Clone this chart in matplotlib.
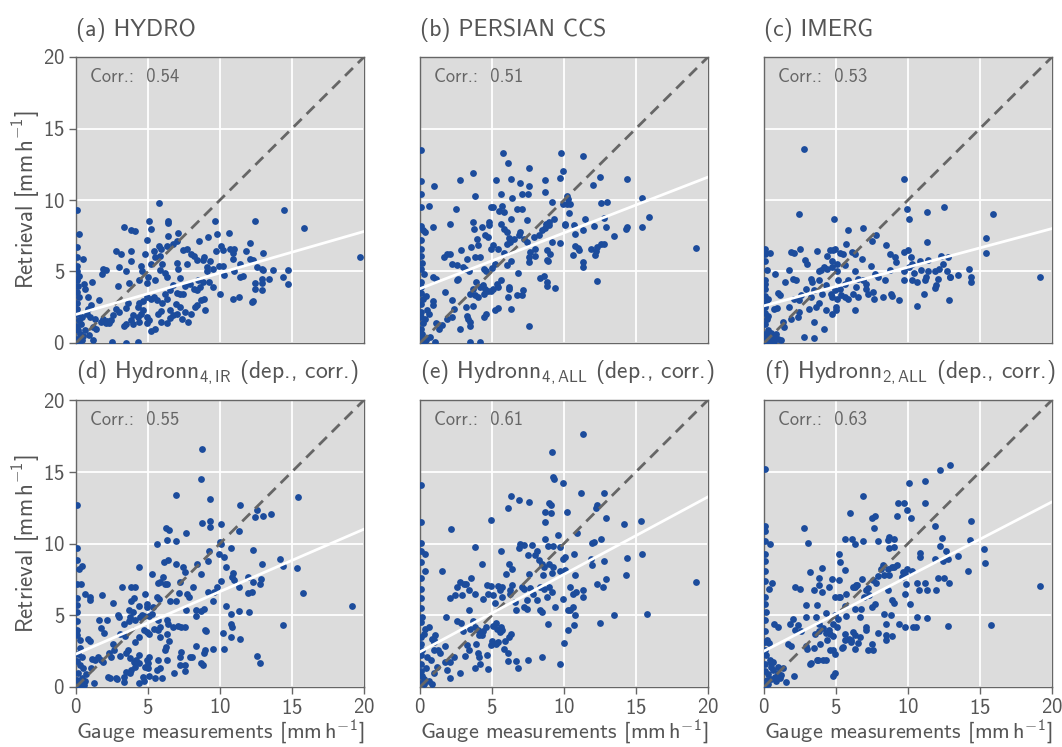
import numpy as np
import matplotlib
matplotlib.use("Agg")
import matplotlib.pyplot as plt

plt.rcParams["font.family"] = ["cmss10", "DejaVu Sans"]
plt.rcParams["mathtext.fontset"] = "custom"
plt.rcParams["mathtext.rm"] = "cmss10"
plt.rcParams["mathtext.it"] = "cmss10"
plt.rcParams["mathtext.sf"] = "cmss10"
plt.rcParams["axes.unicode_minus"] = False
plt.rcParams["axes.formatter.use_mathtext"] = True

# ---------------------------------------------------------------- data
titles = [
    "(a) HYDRO",
    "(b) PERSIAN CCS",
    "(c) IMERG",
    r"(d) Hydronn$_{4,\mathrm{IR}}$ (dep., corr.)",
    r"(e) Hydronn$_{4,\mathrm{ALL}}$ (dep., corr.)",
    r"(f) Hydronn$_{2,\mathrm{ALL}}$ (dep., corr.)",
]
correlations = [0.54, 0.51, 0.53, 0.55, 0.61, 0.63]
fit_intercepts = [2.0, 3.8, 2.6, 2.3, 2.45, 2.5]
fit_slopes = [0.29, 0.39, 0.27, 0.435, 0.54, 0.52]
ticks = [0, 5, 10, 15, 20]

# (gauge, retrieval) pairs in mm/h
hydro_pts = [
    (5.77, 9.79), (14.47, 9.28), (15.8, 8.05), (19.7, 6.0), (0.05, 9.3), (6.4, 8.5), (6.4, 8.4),
    (5.05, 8.5), (9.65, 8.5), (12.4, 8.5), (3.3, 8.1), (3.8, 7.9), (4.1, 7.8), (5.2, 8.0),
    (0.2, 7.6), (6.4, 7.5), (7.1, 7.7), (9.2, 7.4), (9.8, 7.6), (10.6, 7.7), (4.9, 7.2),
    (5.75, 6.75), (5.9, 6.6), (6.35, 6.75), (6.75, 6.9), (7.0, 7.1), (7.45, 6.5), (7.7, 6.55),
    (8.0, 6.2), (8.2, 6.1), (8.55, 7.1), (9.7, 6.4), (10.1, 6.8), (10.2, 6.5), (10.7, 6.6),
    (11.0, 6.6), (10.9, 6.3), (10.9, 5.85), (11.8, 6.4), (12.1, 7.0), (13.0, 6.3), (12.1, 5.9),
    (12.3, 5.8), (2.8, 6.4), (3.1, 6.2), (3.8, 6.4), (4.8, 6.2), (5.4, 6.4), (5.8, 6.1),
    (0.1, 6.7), (0.1, 6.0), (0.5, 5.9), (3.8, 5.7), (3.0, 5.3), (1.9, 5.2), (2.1, 5.1),
    (1.8, 4.8), (3.5, 5.0), (4.5, 5.4), (5.2, 5.55), (5.5, 6.0), (6.0, 5.55), (7.0, 5.6),
    (5.8, 5.1), (6.2, 4.9), (6.3, 4.6), (5.5, 4.4), (5.0, 4.6), (4.6, 5.0), (4.35, 4.4),
    (3.7, 4.2), (2.95, 4.0), (4.9, 4.2), (7.2, 4.55), (7.1, 5.2), (7.7, 5.55), (8.4, 5.8),
    (8.8, 5.8), (8.9, 6.0), (9.3, 5.7), (9.1, 5.3), (9.1, 5.05), (9.5, 5.15), (9.95, 5.4),
    (10.2, 5.4), (10.3, 4.75), (10.95, 5.0), (11.4, 5.55), (11.6, 4.7), (11.4, 4.6), (12.6, 5.3),
    (12.9, 5.15), (13.0, 5.1), (13.65, 5.1), (14.7, 5.1), (12.4, 4.2), (12.95, 4.5), (12.95, 4.2),
    (13.4, 4.5), (14.4, 4.6), (14.7, 4.15), (12.4, 3.75), (12.95, 3.7), (12.2, 2.9), (12.3, 2.95),
    (10.9, 3.05), (11.35, 3.2), (10.0, 3.4), (9.5, 3.9), (9.25, 4.3), (8.8, 4.3), (8.5, 4.4),
    (8.6, 3.95), (8.4, 3.7), (8.2, 3.8), (7.9, 4.15), (7.6, 4.0), (7.45, 3.45), (7.2, 3.4),
    (7.0, 3.5), (6.75, 4.05), (6.5, 3.7), (6.2, 3.45), (6.3, 3.1), (6.0, 2.8), (5.9, 2.25),
    (5.6, 3.0), (5.45, 3.2), (5.2, 3.1), (4.9, 3.2), (4.65, 2.95), (4.4, 2.8), (4.3, 2.5),
    (4.65, 2.3), (4.5, 2.05), (4.9, 1.85), (5.1, 1.6), (4.9, 1.4), (4.3, 1.85), (4.4, 1.5),
    (3.95, 1.95), (3.8, 1.6), (3.95, 1.3), (3.45, 1.3), (3.3, 1.2), (3.6, 2.8), (3.5, 2.45),
    (3.0, 2.2), (2.55, 1.95), (2.45, 1.6), (2.15, 1.55), (2.8, 2.4), (1.6, 3.0), (1.05, 2.65),
    (0.8, 2.4), (1.1, 4.3), (0.55, 4.15), (0.6, 3.8), (0.8, 3.25), (0.75, 2.05), (0.95, 1.85),
    (1.3, 1.7), (1.75, 1.5), (1.85, 1.7), (2.05, 1.4), (2.3, 1.4), (1.15, 1.15), (1.4, 1.0),
    (0.9, 0.55), (1.2, 0.2), (2.5, 0.1), (3.5, 0.02), (4.3, 0.05), (5.2, 0.85), (5.5, 1.0),
    (5.9, 1.5), (6.35, 1.4), (6.55, 1.75), (6.75, 1.95), (7.0, 2.05), (7.35, 1.65), (7.8, 1.5),
    (7.55, 2.2), (8.0, 2.05), (8.25, 2.55), (8.4, 2.65), (8.7, 3.0), (8.9, 3.1), (8.95, 2.3),
    (7.2, 2.55), (6.95, 2.7), (5.7, 2.05), (6.5, 2.3),
    (0.05, 5.4), (0.05, 5.0), (0.2, 4.7), (0.05, 4.4), (0.15, 4.0), (0.05, 3.6), (0.2, 3.2),
    (0.05, 2.8), (0.1, 2.4), (0.05, 2.0), (0.2, 1.6), (0.05, 1.2), (0.15, 0.9), (0.3, 0.6),
    (0.05, 0.3), (0.4, 0.2), (0.2, 0.05), (0.5, 0.5), (0.6, 0.9), (0.35, 1.3), (0.45, 1.8),
]

persiann_pts = [
    (0.05, 13.5), (5.75, 13.3), (9.8, 13.3), (11.35, 13.1), (6.1, 12.6), (7.55, 12.25), (9.9, 12.0),
    (3.7, 11.9), (2.8, 11.4), (5.3, 11.4), (6.35, 11.45), (8.65, 11.4), (9.7, 11.55), (12.5, 11.6),
    (14.35, 11.45), (0.05, 11.3), (1.0, 10.95), (6.95, 11.2), (7.55, 11.0), (12.0, 11.05),
    (3.8, 10.3), (5.6, 10.45), (6.4, 10.15), (7.05, 10.4), (7.5, 10.45), (8.7, 10.55), (10.2, 10.3),
    (10.3, 10.1), (9.95, 9.7), (10.2, 9.75), (10.4, 9.7), (9.2, 9.85), (15.4, 10.15), (12.55, 9.8),
    (13.0, 9.85), (0.05, 10.4), (0.05, 9.5), (0.6, 9.6), (2.5, 9.35), (4.9, 9.5), (5.05, 9.5),
    (5.7, 9.6), (5.5, 9.2), (5.8, 9.15), (6.75, 9.35), (7.05, 9.4), (10.35, 9.1), (9.3, 8.7),
    (8.95, 8.45), (8.75, 8.35), (8.95, 8.25), (8.7, 8.05), (7.45, 8.6), (6.3, 8.65), (5.6, 8.35),
    (5.85, 8.0), (6.05, 7.75), (4.8, 8.45), (4.8, 8.25), (4.3, 8.1), (3.7, 8.45), (3.75, 8.0),
    (2.1, 8.35), (0.9, 8.1), (0.05, 8.2), (0.2, 7.9), (0.35, 7.75), (11.45, 8.65), (12.05, 8.15),
    (12.8, 8.75), (12.9, 8.1), (10.05, 8.35), (10.1, 8.25), (10.7, 8.25), (10.75, 7.6), (11.3, 7.9),
    (14.4, 8.1), (14.3, 8.0), (15.4, 8.1), (15.9, 8.8), (13.5, 7.45), (12.8, 6.95), (12.55, 6.9),
    (12.3, 6.7), (11.9, 6.6), (12.2, 6.4), (12.15, 6.15), (11.0, 6.65), (11.05, 6.5), (10.75, 6.8),
    (10.65, 6.15), (11.3, 5.65), (11.35, 5.3), (12.3, 4.35), (19.2, 6.65), (9.75, 7.0), (9.2, 7.05),
    (8.85, 6.5), (9.05, 6.25), (8.85, 5.8), (8.5, 7.9), (8.25, 7.55), (7.9, 7.4), (8.0, 6.55),
    (7.65, 6.35), (7.45, 7.05), (7.2, 7.3), (6.95, 7.75), (6.85, 7.55), (6.5, 7.3), (6.25, 7.05),
    (6.05, 6.95), (6.2, 7.35), (5.8, 6.3), (5.4, 6.6), (5.1, 6.85), (4.9, 6.55), (4.5, 7.55),
    (4.7, 7.4), (3.95, 7.3), (4.0, 6.85), (3.55, 6.7), (2.85, 6.5), (1.9, 6.25), (2.05, 6.2),
    (1.65, 6.0), (3.25, 5.9), (3.8, 6.0), (4.2, 6.0), (2.2, 5.5), (2.55, 5.45), (3.0, 5.3),
    (3.15, 5.2), (3.4, 5.05), (4.45, 5.15), (4.6, 5.0), (5.2, 5.5), (5.0, 5.25), (6.05, 5.45),
    (6.35, 5.7), (6.8, 4.9), (7.55, 5.65), (7.6, 6.0), (8.0, 6.05), (8.9, 5.75), (8.3, 4.55),
    (8.6, 4.7), (8.85, 4.3), (8.85, 4.0), (9.4, 3.85), (7.15, 3.7), (7.1, 3.35), (6.75, 3.35),
    (6.15, 3.95), (6.15, 3.75), (6.1, 3.25), (5.6, 4.4), (5.35, 4.15), (5.4, 3.9), (5.1, 3.75),
    (4.95, 3.65), (4.75, 3.65), (4.45, 3.4), (4.5, 3.8), (4.4, 4.05), (4.2, 3.95), (3.9, 4.25),
    (3.85, 3.35), (4.0, 3.2), (3.7, 3.75), (3.5, 3.45), (2.55, 4.4), (2.65, 4.5), (0.9, 4.6),
    (1.1, 4.45), (1.75, 3.55), (2.25, 3.0), (0.9, 2.95), (0.9, 2.65), (0.5, 2.3), (0.6, 2.05),
    (6.3, 2.35), (5.45, 2.45), (5.2, 2.3), (4.55, 2.05), (4.45, 1.85), (3.65, 2.6), (3.2, 2.55),
    (3.25, 1.9), (3.3, 1.65), (3.45, 1.5), (3.5, 1.2), (2.8, 1.0), (2.35, 2.35), (2.2, 1.85),
    (1.85, 1.7), (1.5, 1.25), (1.3, 0.95), (1.1, 1.4), (7.55, 1.2), (3.5, 0.05), (4.2, 0.05),
    (1.05, 0.05), (0.45, 0.2), (0.7, 0.45),
    (0.05, 7.2), (0.1, 6.6), (0.05, 6.1), (0.15, 5.6), (0.05, 5.2), (0.25, 4.8), (0.05, 4.3),
    (0.1, 3.9), (0.05, 3.5), (0.2, 3.1), (0.05, 2.7), (0.1, 2.2), (0.05, 1.8), (0.2, 1.4),
    (0.05, 1.0), (0.15, 0.6), (0.05, 0.25), (0.3, 0.05), (0.35, 1.7), (0.4, 3.3),
]

imerg_pts = [
    (2.8, 13.6), (9.7, 11.45), (2.45, 9.0), (4.85, 8.7), (9.9, 9.35), (10.05, 8.7), (11.3, 9.15),
    (12.5, 9.5), (15.9, 9.05), (5.8, 7.9), (6.85, 8.05), (7.8, 7.55), (7.5, 7.15), (8.45, 6.85),
    (11.3, 7.05), (15.4, 7.35), (15.4, 6.3), (19.15, 4.65), (1.9, 6.35), (2.05, 6.3), (2.5, 6.6),
    (3.65, 6.4), (4.55, 6.5), (4.8, 6.5), (4.95, 6.6), (5.7, 6.9), (4.4, 6.05), (5.25, 6.3),
    (5.5, 6.25), (6.1, 6.35), (6.3, 6.2), (6.8, 5.85), (4.75, 5.7), (5.1, 5.55), (5.6, 5.45),
    (4.2, 5.3), (4.4, 5.2), (4.7, 5.3), (3.95, 5.1), (3.85, 5.0), (2.85, 5.8), (3.0, 5.55),
    (1.75, 5.1), (0.05, 6.6), (0.05, 6.2), (0.4, 6.3), (0.05, 5.7), (0.2, 5.1), (0.75, 4.85),
    (0.05, 4.4), (0.05, 3.8), (2.0, 4.5), (2.2, 4.4), (1.45, 4.3), (3.25, 4.45), (3.35, 4.3),
    (3.85, 4.4), (5.1, 5.0), (5.15, 4.4), (5.6, 4.15), (5.8, 4.4), (6.3, 5.0), (6.5, 4.5),
    (6.85, 4.4), (7.4, 5.35), (7.7, 4.85), (7.9, 4.6), (8.4, 4.4), (8.75, 5.1), (8.75, 6.2),
    (9.1, 6.0), (9.2, 5.65), (9.7, 6.35), (10.0, 6.5), (10.2, 6.0), (10.3, 5.55), (10.1, 5.3),
    (9.75, 5.0), (9.7, 4.4), (10.45, 4.9), (10.8, 5.75), (10.9, 5.1), (11.4, 5.8), (11.4, 5.05),
    (12.3, 6.05), (12.8, 6.0), (12.45, 5.55), (11.85, 5.05), (12.15, 5.15), (12.7, 5.0), (12.9, 4.65),
    (12.95, 4.6), (13.45, 4.75), (14.25, 5.2), (14.35, 4.65), (14.4, 4.3), (11.2, 4.4), (11.25, 4.65),
    (12.05, 4.45), (10.6, 4.3), (10.3, 4.4), (11.95, 4.05), (11.85, 3.85), (11.1, 3.45), (12.85, 3.0),
    (10.6, 2.6), (9.4, 3.0), (8.85, 3.45), (8.9, 3.3), (8.25, 3.25), (7.55, 3.6), (7.65, 3.1),
    (7.05, 4.15), (7.1, 3.8), (7.2, 3.45), (6.4, 3.95), (6.5, 3.25), (6.2, 3.45), (5.8, 3.1),
    (5.6, 3.25), (5.25, 3.8), (5.35, 3.35), (5.1, 3.1), (4.95, 3.7), (4.65, 3.45), (4.75, 3.2),
    (4.3, 4.05), (4.05, 3.45), (3.85, 2.8), (3.5, 3.7), (3.25, 3.25), (2.9, 3.8), (2.55, 3.35),
    (2.45, 3.0), (2.05, 3.05), (1.75, 2.55), (0.95, 3.5), (1.1, 3.35), (0.9, 2.45), (0.7, 2.35),
    (0.1, 2.5), (0.25, 3.1), (5.0, 2.5), (5.0, 2.3), (4.75, 2.0), (6.3, 2.3), (4.3, 2.3),
    (3.6, 2.55), (3.15, 2.4), (2.45, 2.15), (2.35, 1.85), (1.85, 1.7), (3.5, 1.5), (4.15, 0.95),
    (2.8, 0.45), (3.45, 0.35), (0.25, 0.9), (0.5, 0.7), (0.6, 0.45), (0.95, 0.3), (1.2, 0.2),
    (0.1, 0.2), (0.35, 0.1), (1.3, 1.5), (1.4, 1.15),
    (0.05, 3.3), (0.15, 2.9), (0.05, 2.1), (0.2, 1.7), (0.05, 1.3), (0.1, 0.6), (0.4, 0.35),
    (0.7, 0.15), (0.5, 0.05), (0.3, 0.5), (0.15, 0.1), (0.8, 0.6), (0.05, 4.1), (0.3, 1.9),
]

hydronn4ir_pts = [
    (8.75, 16.6), (8.65, 14.5), (6.95, 13.4), (9.3, 13.1), (15.45, 13.25), (11.4, 12.65), (0.05, 12.7),
    (12.55, 12.35), (13.0, 11.95), (12.45, 11.85), (13.55, 12.05), (9.3, 11.6), (9.3, 11.15),
    (8.75, 11.4), (10.05, 11.35), (11.3, 10.9), (7.65, 10.75), (6.25, 11.05), (6.45, 10.95),
    (6.35, 10.25), (6.95, 10.15), (5.65, 9.95), (10.0, 10.1), (10.1, 10.0), (10.75, 9.7), (9.25, 9.45),
    (9.2, 8.8), (9.95, 9.25), (10.3, 9.05), (12.3, 9.55), (14.2, 8.95), (14.4, 8.4), (15.35, 8.3),
    (15.75, 6.55), (19.2, 5.65), (0.05, 9.7), (0.05, 8.85), (0.2, 8.25), (0.45, 8.4), (4.35, 8.35),
    (6.1, 8.7), (6.4, 8.85), (6.95, 8.6), (7.45, 8.35), (7.6, 8.0), (8.4, 8.55), (8.7, 7.9),
    (10.4, 8.35), (10.9, 7.95), (10.8, 7.65), (10.95, 7.45), (12.95, 8.55), (11.95, 7.65), (12.3, 7.3),
    (12.75, 7.2), (12.85, 7.5), (11.3, 7.0), (11.95, 6.55), (12.2, 6.6), (12.0, 5.2), (11.3, 5.3),
    (10.75, 5.1), (10.45, 5.65), (9.8, 7.0), (9.6, 6.65), (9.2, 6.6), (9.5, 6.0), (10.05, 7.4),
    (10.75, 4.4), (10.8, 4.2), (10.75, 3.5), (11.4, 3.35), (10.2, 3.75), (10.25, 2.65), (12.55, 2.15),
    (12.8, 1.65), (14.4, 4.35), (5.25, 7.85), (5.7, 7.25), (5.8, 7.35), (6.05, 7.65), (6.15, 7.2),
    (6.35, 7.2), (7.2, 7.3), (8.15, 7.0), (7.7, 6.5), (7.85, 6.3), (7.15, 6.55), (6.55, 6.0),
    (6.95, 6.0), (5.65, 6.25), (5.75, 6.1), (4.8, 6.5), (4.95, 5.75), (4.9, 5.6), (4.4, 5.65),
    (4.0, 6.2), (3.85, 6.0), (3.8, 7.0), (4.1, 7.0), (3.2, 7.0), (2.6, 5.85), (1.8, 6.4),
    (0.95, 6.3), (1.0, 6.05), (0.6, 6.5), (0.05, 7.2), (0.35, 7.2), (0.05, 6.2), (0.05, 5.7),
    (0.05, 5.2), (5.35, 5.55), (5.25, 5.1), (5.1, 4.95), (5.7, 4.65), (5.85, 4.2), (5.4, 4.05),
    (4.7, 4.95), (4.55, 5.0), (4.45, 4.85), (4.1, 4.65), (3.65, 5.35), (3.95, 5.25), (2.9, 5.05),
    (3.0, 4.9), (3.35, 4.4), (3.75, 4.85), (3.65, 4.6), (1.6, 4.7), (2.15, 4.65), (1.75, 4.1),
    (1.95, 3.75), (3.05, 3.7), (3.4, 3.55), (4.1, 3.15), (4.35, 3.5), (4.75, 3.95), (4.9, 3.85),
    (5.1, 3.7), (5.7, 3.95), (5.8, 3.5), (6.45, 3.2), (6.3, 3.7), (6.3, 4.65), (6.4, 4.4),
    (6.75, 4.2), (7.1, 4.25), (7.3, 4.2), (7.55, 4.2), (7.65, 5.35), (8.35, 5.4), (8.65, 5.3),
    (8.9, 5.45), (8.3, 4.95), (8.95, 3.95), (9.05, 3.9), (8.3, 2.85), (8.95, 2.55), (8.9, 2.4),
    (9.5, 2.65), (8.7, 1.65), (8.85, 1.5), (7.95, 2.1), (8.05, 2.1), (7.3, 2.45), (7.25, 2.1),
    (7.6, 1.5), (7.6, 1.1), (7.2, 1.5), (6.8, 0.95), (6.25, 2.8), (6.2, 2.55), (6.35, 1.85),
    (5.7, 1.85), (5.65, 1.15), (5.8, 1.3), (5.95, 0.6), (5.5, 0.6), (5.05, 2.1), (4.9, 1.85),
    (5.0, 1.65), (4.8, 1.4), (5.0, 1.3), (5.1, 0.8), (4.65, 0.7), (4.75, 0.45), (4.35, 2.2),
    (4.2, 1.85), (4.35, 1.65), (4.1, 1.4), (3.75, 2.0), (4.0, 1.75), (4.35, 0.25), (3.75, 0.95),
    (3.8, 1.15), (3.5, 1.05), (3.3, 0.35), (2.85, 0.55), (3.3, 0.7), (3.6, 2.55), (3.45, 2.35),
    (3.05, 2.15), (2.55, 3.0), (2.65, 2.55), (2.3, 2.35), (2.4, 2.1), (2.2, 0.7), (2.35, 0.6),
    (2.8, 0.6), (1.75, 1.85), (1.5, 2.1), (1.3, 1.85), (1.1, 1.95), (1.05, 1.3), (1.25, 0.25),
    (1.85, 1.75), (0.8, 3.35), (1.0, 3.2), (0.25, 3.3), (0.3, 2.7), (0.4, 2.1), (0.5, 1.3),
    (0.3, 1.5), (0.15, 0.95), (0.4, 0.6), (0.6, 0.45), (0.3, 0.25), (0.05, 4.6), (0.1, 4.0),
    (0.05, 3.6), (0.15, 2.3), (0.05, 1.8), (0.1, 0.5), (0.2, 0.1), (0.7, 0.9), (0.55, 0.15),
]

hydronn4all_pts = [
    (11.35, 17.6), (9.2, 16.4), (9.25, 14.6), (9.3, 14.5), (9.95, 14.25), (0.05, 14.05), (11.2, 13.5),
    (12.75, 13.55), (6.3, 13.3), (6.85, 13.0), (7.55, 12.9), (6.1, 12.45), (8.95, 12.8), (9.1, 12.65),
    (12.2, 12.5), (12.3, 12.65), (10.2, 12.2), (8.7, 12.2), (9.1, 12.15), (8.65, 11.5), (4.9, 11.65),
    (12.95, 11.8), (14.15, 11.35), (15.35, 11.6), (2.15, 11.0), (0.05, 11.5), (0.05, 10.05),
    (7.8, 9.9), (8.7, 10.3), (8.9, 9.85), (9.25, 9.85), (9.6, 10.6), (9.7, 9.75), (10.9, 10.7),
    (11.95, 10.05), (12.1, 10.1), (12.55, 10.3), (6.95, 10.0), (6.85, 9.7), (7.2, 9.9), (5.65, 9.45),
    (3.8, 9.75), (8.1, 9.5), (8.0, 9.2), (7.5, 9.2), (8.25, 8.85), (10.1, 9.05), (9.95, 8.95),
    (10.7, 9.25), (11.9, 8.95), (11.95, 8.5), (12.8, 8.75), (15.4, 9.3), (14.35, 9.0), (14.3, 7.8),
    (12.9, 7.55), (12.3, 7.15), (12.7, 7.0), (19.15, 7.35), (15.75, 5.1), (13.5, 5.05), (12.5, 4.45),
    (0.05, 9.5), (0.1, 8.7), (0.35, 9.3), (0.35, 8.1), (1.55, 8.1), (4.3, 8.6), (6.2, 8.55),
    (6.4, 8.2), (6.0, 7.85), (7.6, 7.85), (8.45, 8.6), (8.6, 8.35), (8.95, 8.6), (9.25, 8.35),
    (9.75, 8.1), (10.05, 8.15), (9.2, 7.95), (8.55, 7.8), (10.75, 7.8), (3.55, 7.6), (2.8, 7.3),
    (3.05, 7.2), (3.2, 7.2), (2.55, 7.0), (3.4, 6.75), (2.95, 6.4), (2.45, 6.4), (2.05, 6.2),
    (3.8, 6.5), (4.65, 7.1), (4.95, 7.05), (4.7, 6.5), (5.45, 7.05), (5.7, 7.0), (5.55, 6.75),
    (5.7, 6.3), (5.1, 6.4), (5.2, 5.85), (4.4, 6.1), (6.25, 6.75), (6.4, 7.1), (6.25, 6.5),
    (6.6, 5.9), (6.7, 5.35), (7.1, 7.0), (7.25, 6.85), (7.65, 6.9), (7.85, 6.5), (8.3, 7.0),
    (8.6, 6.85), (8.8, 6.3), (8.95, 7.0), (8.15, 6.05), (8.3, 5.4), (8.5, 5.25), (7.45, 6.05),
    (7.45, 5.45), (7.2, 5.55), (9.15, 6.65), (9.95, 6.15), (10.65, 6.5), (10.85, 6.65), (10.4, 7.0),
    (10.6, 5.6), (10.45, 5.35), (10.3, 5.35), (10.75, 5.05), (11.3, 6.75), (11.3, 6.3), (9.4, 5.6),
    (8.9, 4.4), (10.7, 4.35), (10.25, 3.95), (10.0, 3.1), (9.75, 1.6), (8.5, 2.1), (7.5, 1.85),
    (6.8, 1.35), (6.7, 1.8), (6.1, 1.8), (6.3, 3.7), (6.2, 3.5), (5.9, 3.2), (5.65, 4.2),
    (5.7, 3.95), (5.55, 3.8), (5.25, 4.45), (5.1, 4.25), (5.35, 4.05), (6.1, 2.35), (5.8, 2.65),
    (5.45, 3.15), (5.3, 3.0), (5.0, 3.2), (4.9, 2.95), (4.65, 2.25), (4.55, 4.2), (4.4, 3.9),
    (4.3, 3.6), (4.0, 3.95), (4.1, 3.65), (3.9, 3.0), (3.7, 4.6), (3.8, 4.2), (3.5, 4.05),
    (3.4, 5.4), (2.55, 4.6), (2.85, 4.45), (3.0, 3.9), (3.25, 2.9), (3.4, 2.55), (3.15, 2.15),
    (4.0, 2.35), (4.1, 2.1), (4.2, 1.6), (3.8, 1.35), (4.75, 1.25), (2.8, 0.95), (1.85, 1.15),
    (2.1, 0.6), (2.35, 2.1), (2.1, 1.75), (1.75, 1.75), (1.75, 2.85), (1.4, 2.35), (1.25, 2.55),
    (1.05, 3.6), (1.0, 3.25), (0.95, 3.15), (0.8, 3.35), (0.6, 4.2), (0.35, 4.05), (0.25, 3.7),
    (0.1, 3.5), (1.8, 4.9), (0.95, 2.55), (0.5, 2.1), (0.75, 1.85), (1.2, 1.4), (0.95, 0.95),
    (0.6, 0.45), (0.25, 0.55), (0.3, 0.2), (0.85, 0.2), (0.05, 7.6), (0.05, 6.8), (0.1, 6.2),
    (0.05, 5.5), (0.15, 4.9), (0.05, 4.5), (0.05, 3.0), (0.15, 2.6), (0.05, 2.2), (0.1, 1.6),
    (0.05, 1.1), (0.15, 0.8), (0.05, 0.3), (0.4, 1.3),
]

hydronn2all_pts = [
    (0.1, 15.2), (12.95, 15.5), (12.25, 15.15), (10.05, 14.25), (11.2, 14.35), (6.9, 13.3), (11.15, 12.85),
    (9.3, 12.8), (9.7, 12.8), (9.9, 12.3), (9.25, 11.9), (10.2, 11.75), (5.95, 12.15), (7.5, 11.75),
    (7.7, 11.9), (7.65, 11.1), (2.75, 11.1), (3.05, 10.05), (14.4, 11.55), (11.9, 11.25), (5.6, 10.3),
    (6.1, 10.3), (6.3, 9.95), (6.85, 10.15), (7.95, 10.2), (8.65, 10.45), (9.05, 10.3), (8.6, 10.25),
    (8.7, 9.7), (9.05, 9.75), (12.35, 10.4), (12.2, 9.85), (14.3, 10.25), (15.3, 9.6), (15.35, 8.65),
    (19.15, 7.05), (15.75, 4.35), (12.8, 4.25), (10.8, 9.35), (10.85, 9.05), (12.65, 9.45), (13.45, 9.1),
    (11.9, 8.95), (12.45, 8.75), (12.8, 8.9), (14.2, 8.1), (5.2, 9.25), (5.25, 8.7), (4.0, 8.3),
    (3.2, 8.0), (5.65, 8.15), (0.05, 11.2), (0.05, 10.9), (0.05, 10.2), (0.4, 10.0), (0.05, 9.25),
    (0.05, 8.8), (0.05, 8.1), (0.05, 7.4), (0.55, 7.25), (0.35, 6.85), (8.25, 8.5), (8.1, 8.2),
    (8.6, 8.25), (8.7, 7.8), (8.9, 8.35), (9.05, 8.35), (9.25, 8.5), (9.65, 8.0), (9.8, 7.9),
    (9.95, 8.25), (10.25, 8.1), (9.6, 7.7), (9.85, 7.2), (8.35, 7.8), (7.9, 7.75), (7.75, 7.25),
    (7.6, 7.45), (7.25, 6.9), (7.1, 6.75), (6.8, 7.55), (6.45, 7.1), (6.3, 6.95), (6.95, 6.3),
    (7.3, 6.4), (8.6, 6.75), (8.9, 6.05), (9.05, 5.85), (9.8, 6.5), (10.15, 5.8), (10.65, 7.25),
    (10.75, 6.75), (11.2, 7.25), (11.35, 6.75), (11.95, 6.75), (12.1, 7.6), (12.5, 7.6), (12.85, 7.25),
    (10.6, 4.85), (10.35, 4.15), (10.55, 4.2), (11.35, 4.8), (9.4, 4.4), (9.8, 4.15), (8.35, 5.1),
    (8.8, 5.0), (8.5, 4.4), (7.5, 5.6), (7.7, 5.75), (6.35, 5.45), (6.7, 4.9), (6.75, 5.45),
    (5.7, 6.5), (6.2, 6.95), (6.4, 7.1), (5.65, 5.65), (5.7, 4.95), (5.2, 6.3), (5.3, 6.25),
    (4.9, 6.3), (4.75, 7.5), (5.2, 7.45), (4.5, 6.95), (4.0, 6.6), (3.45, 6.75), (3.8, 7.1),
    (3.85, 7.6), (2.95, 5.7), (3.65, 5.7), (2.15, 6.95), (2.5, 6.85), (4.3, 5.15), (4.8, 4.4),
    (4.95, 5.0), (5.15, 4.75), (5.1, 4.2), (4.5, 3.95), (4.3, 3.75), (4.6, 3.7), (4.8, 3.55),
    (3.8, 4.4), (4.1, 4.1), (3.8, 3.9), (3.55, 3.7), (3.6, 4.9), (2.95, 4.9), (2.0, 4.75),
    (2.35, 4.35), (2.15, 3.95), (2.55, 3.9), (1.8, 4.4), (0.7, 4.4), (1.0, 4.2), (0.2, 3.25),
    (0.1, 3.15), (0.35, 3.05), (1.65, 3.0), (1.85, 2.85), (2.95, 2.85), (3.0, 2.65), (3.45, 2.75),
    (3.9, 3.0), (4.35, 3.25), (4.55, 2.55), (4.8, 2.55), (4.95, 2.3), (5.4, 2.75), (5.5, 2.8),
    (5.65, 3.25), (5.9, 3.35), (6.05, 3.3), (5.65, 3.7), (6.15, 3.85), (6.3, 3.65), (6.5, 3.05),
    (6.3, 2.65), (6.7, 3.5), (7.05, 3.95), (7.05, 4.2), (7.25, 2.55), (7.55, 2.6), (7.5, 3.0),
    (7.95, 3.75), (8.5, 3.65), (8.45, 3.25), (8.9, 3.55), (6.05, 3.15), (4.3, 1.85), (4.1, 1.85),
    (3.75, 1.85), (3.65, 1.85), (3.25, 1.65), (3.2, 1.6), (4.95, 0.95), (4.8, 0.8), (2.1, 0.75),
    (1.5, 0.35), (0.95, 0.95), (0.6, 1.15), (0.5, 1.4), (0.95, 1.4), (0.75, 0.7), (1.1, 0.6),
    (1.3, 1.3), (0.5, 1.7), (0.4, 1.85), (0.6, 1.75), (0.85, 0.45), (0.3, 0.2), (0.5, 0.55),
    (1.2, 0.85), (0.05, 6.3), (0.05, 5.8), (0.15, 5.2), (0.05, 4.7), (0.1, 3.9), (0.05, 2.6),
    (0.15, 2.2), (0.05, 1.6), (0.1, 1.1), (0.2, 0.5), (0.05, 0.15), (0.3, 0.9),
]

datasets = [hydro_pts, persiann_pts, imerg_pts, hydronn4ir_pts, hydronn4all_pts, hydronn2all_pts]

# ---------------------------------------------------------------- style
bg = "#dcdcdc"
dot_color = "#1c4c9c"
text_color = "#555555"
spine_color = "#666666"
unit = r"[mm$\,$h$^{-1}$]"

fig = plt.figure(figsize=(10.62, 7.47), dpi=100)

lefts = [76 / 1062, 420 / 1062, 764 / 1062]
width = 288 / 1062
rows = [(1 - 343 / 747, 286 / 747), (1 - 687 / 747, 287 / 747)]

for i, pts in enumerate(datasets):
    r, c = divmod(i, 3)
    bottom, height = rows[r]
    ax = fig.add_axes([lefts[c], bottom, width, height])
    ax.set_facecolor(bg)
    ax.set_axisbelow(True)
    ax.grid(True, color="white", linewidth=1.3)

    arr = np.array(pts)
    ax.scatter(arr[:, 0], arr[:, 1], s=24, color=dot_color, linewidths=0, zorder=3)

    ax.plot([0, 20], [0, 20], linestyle=(0, (4, 2.5)), color="#666666", linewidth=2.0, zorder=4)
    xs = np.array([0, 20])
    ax.plot(xs, fit_intercepts[i] + fit_slopes[i] * xs, color="white", linewidth=2.0, zorder=5)

    ax.set_xlim(0, 20)
    ax.set_ylim(0, 20)
    ax.set_xticks(ticks)
    ax.set_yticks(ticks)

    for sp in ax.spines.values():
        sp.set_color(spine_color)
        sp.set_linewidth(1.0)

    ax.tick_params(colors=spine_color, labelcolor=text_color, labelsize=15, length=5, width=1.0, pad=3)
    if r == 0:
        ax.tick_params(axis="x", length=0, labelbottom=False)
    else:
        ax.set_xlabel("Gauge measurements " + unit, fontsize=16, color=text_color, labelpad=-1)
    if c > 0:
        ax.tick_params(axis="y", length=0, labelleft=False)
    else:
        ax.set_ylabel("Retrieval " + unit, fontsize=16.5, color=text_color, labelpad=1)

    ax.set_title(titles[i], loc="left", fontsize=17, color=text_color, pad=15)
    ax.text(0.05, 0.96, "Corr.:  {:.2f}".format(correlations[i]), transform=ax.transAxes,
            ha="left", va="top", fontsize=13.3, color="#666666")

fig.savefig("out.png", dpi=100)
